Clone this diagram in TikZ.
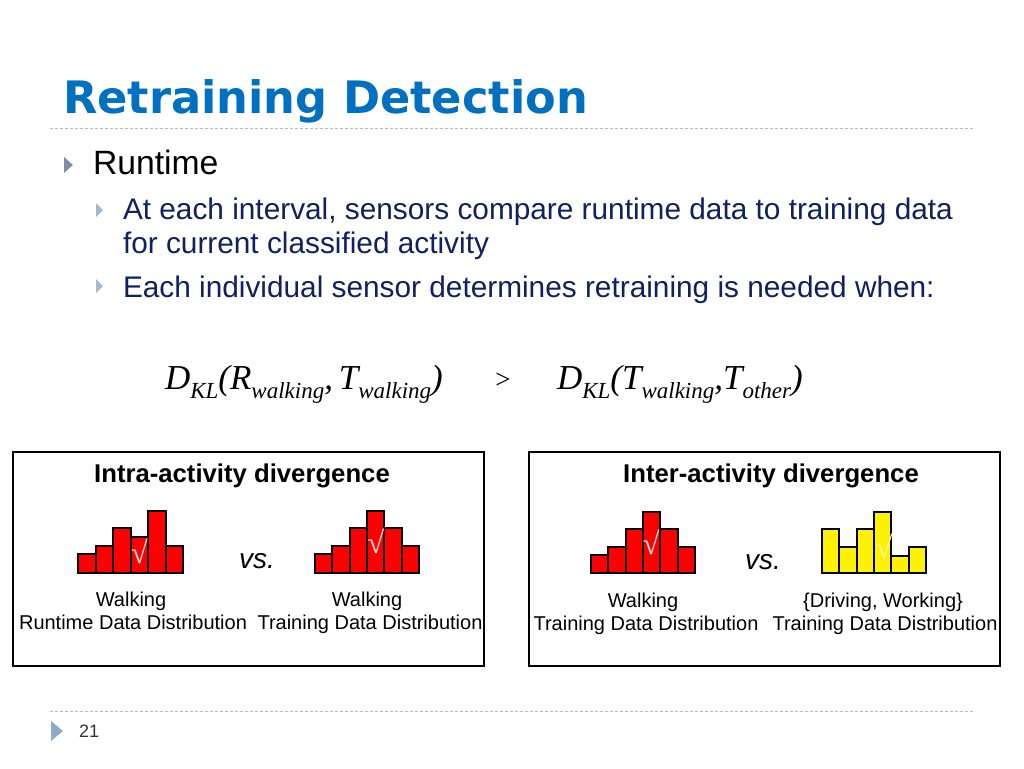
\documentclass[tikz,border=0pt]{standalone}
\usepackage{fontspec}
\setmainfont{Liberation Sans}
\newfontfamily\titlefont{DejaVu Sans}
\newfontfamily\fserif{Liberation Serif}
\definecolor{titleblue}{RGB}{0,112,192}
\definecolor{navy}{RGB}{16,32,96}
\definecolor{bulA}{RGB}{128,142,170}
\definecolor{bulB}{RGB}{168,182,206}
\definecolor{rulecol}{RGB}{170,190,210}
\definecolor{footbul}{RGB}{142,170,200}
\definecolor{chkred}{RGB}{255,225,225}
\definecolor{chkyel}{RGB}{246,246,160}
\newcommand\fs[1]{\fontsize{#1}{#1}\selectfont}
\newcommand\sub[1]{\raisebox{-0.27em}{\fontsize{23}{23}\selectfont #1}}
\newcommand\drawhist[4]{%
  \foreach \t [count=\i from 0] in {#4} {
    \draw[histbar, fill=#3] ({#1+\i*#2},573) rectangle ({#1+(\i+1)*#2},\t);
  }}
\tikzset{
  histbar/.style={line width=2pt, draw=black},
  rulestyle/.style={draw=rulecol, line width=1pt, dash pattern=on 3pt off 2pt},
  panel/.style={draw=black, line width=2.2pt, minimum width=471, minimum height=214, anchor=north west},
  lbl/.style={anchor=base, font=\fs{20}},
  ptitle/.style={anchor=base, font=\fs{25.7}\bfseries},
  vstext/.style={anchor=base, font=\fs{28}\itshape},
  chk/.style={font=\fserif\fs{31}},
  body/.style={anchor=base west, font=\fs{29.8}, text=navy},
  formula/.style={anchor=base west, font=\fserif\itshape\fs{35}},
}
\begin{document}
\begin{tikzpicture}[x=1pt,y=-1pt, every node/.style={inner sep=0pt,outer sep=0pt}]
\useasboundingbox[fill=white] (0,0) rectangle (1024,768);
% title
\node[anchor=base west, text=titleblue, font=\titlefont\fs{44.7}\bfseries] (title) at (63,113) {Retraining Detection};
\coordinate (r1a) at (50,128); \coordinate (r1b) at (975,128);
\draw[rulestyle] (r1a) -- (r1b);
% bullets
\fill[bulA] (64,157) -- (73,165) -- (64,173) -- cycle;
\node[anchor=base west, font=\fs{33.7}] (b1) at (93,174) {Runtime};
\fill[bulB] (96,203) -- (103,210) -- (96,217) -- cycle;
\node[body] (b2) at (123,219) {At each interval, sensors compare runtime data to training data};
\node[body] (b2b) at (123,253) {for current classified activity};
\fill[bulB] (96,279) -- (103,286) -- (96,293) -- cycle;
\node[body] (b3) at (123,297) {Each individual sensor determines retraining is needed when:};
% formula
\node[formula] (f1) at (165,389) {D\sub{KL}(R\sub{walking},\,T\sub{walking})};
\node[anchor=base, font=\fserif\fs{27}] (gt) at (503,388) {>};
\node[formula] (f2) at (557,389) {D\sub{KL}(T\sub{walking},T\sub{other})};
% panels
\node[panel] (intra) at (13,452) {};
\node[panel] (inter) at (529,452) {};
\node[ptitle] (t1) at (242,482) {Intra-activity divergence};
\node[ptitle] (t2) at (771,482) {Inter-activity divergence};
% histograms
\drawhist{78}{17.5}{red}{554,546,528,537,511,546}
\drawhist{315}{17.33}{red}{554,546,528,511,528,546}
\drawhist{591}{17.33}{red}{555,547,529,512,529,547}
\drawhist{822}{17.33}{yellow}{529,547,529,512,556,547}
\node[chk, text=chkred] (c1) at (139.5,551) {√};
\node[chk, text=chkred] (c2) at (376,541) {√};
\node[chk, text=chkred] (c3) at (651,542) {√};
\node[chk, text=chkyel] (c4) at (884,546) {√};
\node[vstext] (vs1) at (257,568) {vs.};
\node[vstext] (vs2) at (763,569) {vs.};
% labels
\node[lbl] (l1a) at (131,606) {Walking};
\node[lbl] (l1b) at (133,629) {Runtime Data Distribution};
\node[lbl] (l2a) at (367,606) {Walking};
\node[lbl] (l2b) at (370,629) {Training Data Distribution};
\node[lbl] (l3a) at (643,607) {Walking};
\node[lbl] (l3b) at (646,630) {Training Data Distribution};
\node[lbl] (l4a) at (883,607) {\{Driving, Working\}};
\node[lbl] (l4b) at (885,630) {Training Data Distribution};
% footer
\coordinate (r2a) at (50,711); \coordinate (r2b) at (975,711);
\draw[rulestyle] (r2a) -- (r2b);
\fill[footbul] (51,721) -- (63,731) -- (51,741) -- cycle;
\node[anchor=base west, font=\fs{18}, text=black!80] (pg) at (79,737) {21};
\end{tikzpicture}
\end{document}
